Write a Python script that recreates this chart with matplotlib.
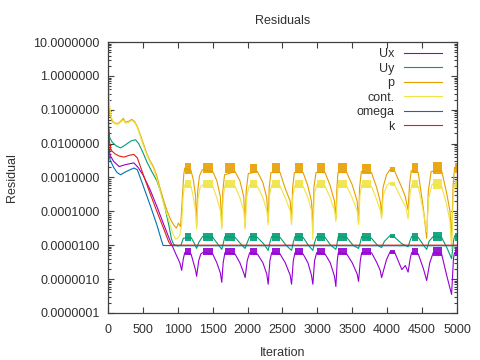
import matplotlib
matplotlib.use("Agg")
import matplotlib.pyplot as plt
from matplotlib.ticker import FixedLocator, FormatStrFormatter, LogLocator, NullFormatter

plt.rcParams['font.family'] = ['Liberation Sans', 'DejaVu Sans']

# residual histories as (iteration, residual)
ux_pts = [(0, 0.04), (10, 0.008), (30, 0.0045), (80, 0.003), (160, 0.0021), (250, 0.0024),
          (370, 0.0027), (430, 0.002), (500, 1.2e-3), (600, 4.5e-4), (700, 1.4e-4), (800, 4e-5),
          (900, 1.2e-5), (980, 5e-6), (1030, 3e-6), (1055, 1.8e-6), (1080, 4e-6), (1100, 6e-6),
          (1190, 5.5e-6), (1225, 3e-6), (1255, 1.8e-6), (1270, 1.2e-6), (1300, 3.5e-6), (1330, 5.5e-6), (1355, 6e-6),
          (1500, 5.5e-6), (1560, 3e-6), (1610, 1.5e-6), (1630, 8e-7), (1650, 3e-6), (1675, 6e-6),
          (1820, 5.5e-6), (1890, 3e-6), (1945, 1.5e-6), (1965, 1.1e-6), (1995, 3.5e-6), (2030, 6e-6),
          (2140, 5.5e-6), (2220, 3e-6), (2275, 1.4e-6), (2295, 7e-7), (2320, 3.5e-6), (2345, 6e-6),
          (2465, 5.5e-6), (2540, 3e-6), (2610, 1.3e-6), (2630, 7e-7), (2655, 3.5e-6), (2680, 6e-6),
          (2795, 5.5e-6), (2865, 3e-6), (2915, 1.3e-6), (2935, 7e-7), (2960, 3.5e-6), (2990, 6e-6),
          (3110, 5.5e-6), (3185, 3e-6), (3245, 1.2e-6), (3265, 6e-7), (3285, 3.5e-6), (3300, 6e-6),
          (3420, 5.5e-6), (3500, 3e-6), (3570, 1.4e-6), (3590, 8.5e-7), (3615, 3.5e-6), (3635, 6e-6),
          (3775, 6e-6), (3850, 3.1e-6), (3900, 1.8e-6), (3920, 1.1e-6), (3990, 3.7e-6), (4040, 6.3e-6),
          (4110, 6e-6), (4210, 1.9e-6), (4260, 2.5e-6), (4300, 1.6e-6), (4330, 4e-6), (4350, 6e-6),
          (4445, 5.5e-6), (4520, 2e-6), (4566, 9e-7), (4610, 3e-6), (4660, 6e-6),
          (4780, 5.5e-6), (4852, 1.3e-6), (4923, 3.5e-7), (4950, 4e-6), (4965, 6e-6), (5000, 6e-6)]

uy_pts = [(0, 0.12), (10, 0.03), (25, 0.015), (60, 0.011), (120, 0.0085), (180, 0.0075), (250, 0.0092),
          (330, 0.012), (395, 0.013), (440, 0.01), (500, 0.0055), (560, 0.0028), (620, 0.0016), (700, 8e-4),
          (760, 3.5e-4), (820, 1.2e-4), (870, 4e-5), (910, 1.5e-5), (940, 1.05e-5), (1000, 9.5e-6),
          (1045, 1e-5), (1080, 1.6e-5),
          (1190, 1.7e-5), (1240, 1.1e-5), (1270, 8e-6), (1300, 1.2e-5), (1355, 1.8e-5),
          (1500, 1.7e-5), (1570, 1.1e-5), (1630, 7.5e-6), (1655, 1.2e-5), (1675, 1.8e-5),
          (1820, 1.7e-5), (1900, 1.1e-5), (1965, 8e-6), (1995, 1.2e-5), (2030, 1.8e-5),
          (2140, 1.7e-5), (2230, 1.1e-5), (2295, 7e-6), (2320, 1.2e-5), (2345, 1.8e-5),
          (2465, 1.7e-5), (2550, 1e-5), (2630, 7e-6), (2655, 1.2e-5), (2680, 1.8e-5),
          (2795, 1.7e-5), (2870, 1e-5), (2935, 7e-6), (2960, 1.2e-5), (2990, 1.8e-5),
          (3110, 1.7e-5), (3190, 1e-5), (3265, 7.5e-6), (3285, 1.2e-5), (3300, 1.8e-5),
          (3420, 1.7e-5), (3510, 1e-5), (3590, 8e-6), (3615, 1.2e-5), (3635, 1.8e-5),
          (3775, 1.6e-5), (3860, 1e-5), (3920, 8.5e-6), (3960, 1.3e-5), (4040, 1.9e-5),
          (4110, 1.7e-5), (4210, 1.1e-5), (4300, 9e-6), (4330, 1.4e-5), (4350, 1.8e-5),
          (4445, 1.7e-5), (4520, 1e-5), (4566, 7.5e-6), (4600, 1.3e-5), (4660, 1.8e-5),
          (4780, 1.7e-5), (4860, 8e-6), (4923, 4e-6), (4950, 1.3e-5), (4965, 1.8e-5), (5000, 1.8e-5)]

p_pts = [(0, 0.6), (10, 0.15), (30, 0.07), (60, 0.045), (100, 0.04), (150, 0.04), (190, 0.048),
         (220, 0.056), (250, 0.043), (300, 0.046), (340, 0.052), (380, 0.045), (420, 0.032),
         (460, 0.019), (500, 0.011), (550, 0.0055), (600, 0.0032), (650, 0.0021), (700, 0.0011),
         (750, 4.5e-4), (800, 2e-4), (850, 1e-4), (900, 5.5e-5), (940, 4e-5), (980, 3.2e-5),
         (1010, 4.5e-5), (1040, 3.5e-5), (1065, 2.5e-4), (1085, 1.2e-3), (1100, 1.9e-3),
         (1190, 1.6e-3), (1225, 8e-4), (1255, 2.8e-4), (1270, 3.5e-5),
         (1285, 4e-4), (1310, 1.1e-3), (1350, 1.7e-3),
         (1500, 1.5e-3), (1560, 8e-4), (1610, 2.7e-4), (1630, 3.5e-5),
         (1645, 4e-4), (1670, 1.2e-3),
         (1820, 1.5e-3), (1890, 8e-4), (1945, 2.7e-4), (1965, 3.5e-5),
         (1980, 4e-4), (2010, 1.3e-3),
         (2140, 1.5e-3), (2220, 7e-4), (2275, 2.5e-4), (2295, 5e-5),
         (2310, 5e-4), (2335, 1.4e-3),
         (2465, 1.4e-3), (2535, 5e-4), (2610, 2e-4), (2630, 5e-5),
         (2645, 5e-4), (2670, 1.4e-3),
         (2795, 1.4e-3), (2860, 6e-4), (2915, 2e-4), (2935, 3.5e-5),
         (2950, 5e-4), (2980, 1.4e-3),
         (3110, 1.4e-3), (3180, 6e-4), (3245, 2e-4), (3265, 6e-5),
         (3280, 5e-4), (3295, 1.4e-3),
         (3420, 1.4e-3), (3500, 6e-4), (3570, 2e-4), (3590, 4.5e-5),
         (3605, 5e-4), (3630, 1.5e-3),
         (3775, 1.4e-3), (3850, 5e-4), (3905, 1.8e-4), (3920, 7e-5),
         (3940, 5e-4), (3990, 1.2e-3), (4040, 1.7e-3),
         (4110, 1.5e-3), (4210, 5e-4), (4260, 2.7e-4), (4300, 1.1e-4),
         (4320, 6e-4), (4345, 1.6e-3),
         (4445, 1.4e-3), (4517, 1.3e-4), (4566, 1.6e-5),
         (4590, 4e-4), (4630, 1.5e-3),
         (4780, 1.6e-3), (4852, 3.5e-4), (4900, 1e-4), (4923, 1.5e-5),
         (4945, 6e-4), (4965, 1.9e-3), (5000, 2e-3)]

cont_pts = [(0, 5.0), (8, 0.8), (20, 0.15), (45, 0.06), (100, 0.038), (150, 0.038), (190, 0.045),
            (220, 0.05), (250, 0.04), (300, 0.043), (340, 0.048), (380, 0.042), (420, 0.03),
            (460, 0.017), (500, 0.0095), (550, 0.005), (600, 0.0029), (650, 0.0019), (700, 9e-4),
            (750, 3.8e-4), (800, 1.6e-4), (850, 7.5e-5), (890, 4e-5), (930, 2.2e-5), (970, 1.5e-5),
            (1000, 1.6e-5), (1030, 2e-5), (1055, 4e-5), (1075, 2.5e-4), (1095, 6e-4),
            (1190, 5.5e-4), (1225, 2.5e-4), (1255, 1e-4), (1270, 3e-5),
            (1290, 2.5e-4), (1320, 5e-4), (1355, 6e-4),
            (1500, 5.5e-4), (1560, 2.5e-4), (1612, 1e-4), (1630, 3e-5),
            (1650, 2.5e-4), (1675, 6e-4),
            (1820, 5.5e-4), (1890, 2.5e-4), (1948, 1e-4), (1965, 3e-5),
            (1985, 2.5e-4), (2015, 5e-4), (2030, 6e-4),
            (2140, 5.5e-4), (2220, 2.5e-4), (2278, 1e-4), (2295, 4e-5),
            (2315, 3e-4), (2345, 6e-4),
            (2465, 5.5e-4), (2540, 2.5e-4), (2612, 1e-4), (2630, 4e-5),
            (2650, 3e-4), (2680, 6e-4),
            (2795, 5.5e-4), (2865, 2.5e-4), (2918, 1e-4), (2935, 1.5e-5),
            (2955, 3e-4), (2990, 6e-4),
            (3110, 5.5e-4), (3185, 2.5e-4), (3248, 1e-4), (3265, 5e-5),
            (3285, 3e-4), (3300, 6e-4),
            (3420, 5.5e-4), (3500, 2.5e-4), (3572, 1e-4), (3590, 4e-5),
            (3610, 3e-4), (3635, 6e-4),
            (3775, 5.5e-4), (3850, 2.2e-4), (3905, 1e-4), (3920, 6e-5),
            (3945, 3e-4), (4000, 6e-4), (4040, 7e-4),
            (4110, 6e-4), (4210, 2.2e-4), (4270, 1.3e-4), (4300, 6e-5),
            (4325, 3e-4), (4350, 6e-4),
            (4445, 5.5e-4), (4517, 1e-4), (4566, 2.5e-5),
            (4595, 2.5e-4), (4640, 6e-4), (4660, 6.5e-4),
            (4780, 5.5e-4), (4855, 1.5e-4), (4900, 5e-5), (4923, 7e-6),
            (4945, 2.5e-4), (4965, 6e-4), (5000, 6.5e-4)]

omega_pts = [(0, 0.012), (10, 0.005), (30, 0.0033), (80, 0.002), (130, 0.0014), (180, 0.0012),
             (260, 0.0015), (370, 0.0019), (420, 0.0017), (500, 6e-4), (600, 1.6e-4), (700, 4e-5),
             (770, 1.3e-5), (790, 9.8e-6), (1000, 9.6e-6), (5000, 9.6e-6)]

k_pts = [(0, 0.08), (8, 0.03), (20, 0.012), (40, 0.0065), (100, 0.005), (160, 0.0043), (230, 0.004),
         (300, 0.0045), (370, 0.0048), (420, 0.0038), (500, 1.3e-3), (600, 3.5e-4), (700, 1e-4),
         (800, 3e-5), (870, 1.25e-5), (900, 1e-5), (5000, 1e-5)]

# noisy plateaus: iteration span and residual spread of each one
band_start = [1100, 1355, 1675, 2030, 2345, 2680, 2990, 3300, 3635, 4040, 4350, 4660, 4965]
band_end = [1190, 1500, 1820, 2140, 2465, 2795, 3110, 3420, 3775, 4110, 4445, 4780, 5000]
ux_lo = [5.0e-6, 5.0e-6, 5.0e-6, 5.0e-6, 5.0e-6, 5.0e-6, 5.0e-6, 5.0e-6, 5.0e-6, 5.5e-6, 5.0e-6, 4.7e-6, 5.0e-6]
ux_hi = [8.3e-6, 8.3e-6, 8.3e-6, 8.3e-6, 8.3e-6, 8.3e-6, 8.3e-6, 8.3e-6, 8.3e-6, 7e-6, 8.3e-6, 8.8e-6, 8.3e-6]
uy_lo = [1.35e-5, 1.35e-5, 1.35e-5, 1.35e-5, 1.35e-5, 1.35e-5, 1.35e-5, 1.35e-5, 1.3e-5, 1.6e-5, 1.35e-5, 1.35e-5, 1.35e-5]
uy_hi = [2.3e-5, 2.3e-5, 2.3e-5, 2.3e-5, 2.3e-5, 2.3e-5, 2.3e-5, 2.3e-5, 2.3e-5, 2.1e-5, 2.3e-5, 2.4e-5, 2.3e-5]
p_lo = [1.3e-3, 1.35e-3, 1.35e-3, 1.35e-3, 1.35e-3, 1.35e-3, 1.35e-3, 1.35e-3, 1.3e-3, 1.5e-3, 1.35e-3, 1.3e-3, 1.35e-3]
p_hi = [2.7e-3, 2.7e-3, 2.6e-3, 2.5e-3, 2.6e-3, 2.7e-3, 2.6e-3, 2.7e-3, 2.5e-3, 2.1e-3, 2.6e-3, 2.9e-3, 2.7e-3]
cont_lo = [4.8e-4, 4.8e-4, 4.8e-4, 4.8e-4, 4.8e-4, 4.8e-4, 4.8e-4, 4.8e-4, 4.8e-4, 5.5e-4, 4.8e-4, 4.6e-4, 4.8e-4]
cont_hi = [8.3e-4, 8.3e-4, 8.3e-4, 8.3e-4, 8.3e-4, 8.3e-4, 8.3e-4, 8.3e-4, 8.3e-4, 7.5e-4, 8.3e-4, 8.8e-4, 8.3e-4]

series = [
    ("Ux", ux_pts, ux_lo, ux_hi, "#9400d3"),
    ("Uy", uy_pts, uy_lo, uy_hi, "#009e73"),
    ("p", p_pts, p_lo, p_hi, "#e69f00"),
    ("cont.", cont_pts, cont_lo, cont_hi, "#f0e442"),
    ("omega", omega_pts, None, None, "#0072b2"),
    ("k", k_pts, None, None, "#e51e10"),
]

fig = plt.figure(figsize=(4.8, 3.6), dpi=100)
ax = fig.add_axes([0.225, 0.131, 0.727, 0.752])

for i, (name, pts, lo, hi, col) in enumerate(series):
    xs = [a for a, b in pts]
    ys = [b for a, b in pts]
    z = 2 + i * 0.1
    ax.plot(xs, ys, color=col, lw=0.8, label=name, zorder=z)
    if lo is not None:
        for s, e, l, h in zip(band_start, band_end, lo, hi):
            ax.fill_between([s, e], [l, l], [h, h], color=col, lw=0, alpha=0.9, zorder=z)

ax.set_yscale('log')
ax.set_xlim(0, 5000)
ax.set_ylim(1e-7, 10)
ax.set_xticks(range(0, 5001, 500))
ax.yaxis.set_major_locator(FixedLocator([10.0 ** e for e in range(-7, 2)]))
ax.yaxis.set_major_formatter(FormatStrFormatter('%.7f'))
ax.yaxis.set_minor_locator(LogLocator(base=10, subs=range(2, 10), numticks=20))
ax.yaxis.set_minor_formatter(NullFormatter())

border = '#404040'
for sp in ax.spines.values():
    sp.set_color(border)
    sp.set_linewidth(0.9)
ax.tick_params(which='both', direction='in', top=True, right=True, colors=border,
               labelcolor='#303030', labelsize=9, width=0.8)
ax.tick_params(which='major', length=4)
ax.tick_params(axis='x', which='major', pad=8)
ax.tick_params(axis='y', which='major', pad=6)
ax.tick_params(which='minor', length=2)

ax.set_title("Residuals", fontsize=9, color='#303030', pad=13)
ax.set_xlabel("Iteration", fontsize=9, color='#303030', labelpad=8)
ax.set_ylabel("Residual", fontsize=9, color='#303030', labelpad=11)

leg = ax.legend(loc='upper right', bbox_to_anchor=(0.957, 0.978), markerfirst=False, frameon=False,
                handlelength=3, handletextpad=0.8, labelspacing=0.2, borderpad=0, borderaxespad=0,
                fontsize=9)
for t in leg.get_texts():
    t.set_color('#303030')

fig.savefig("out.png", dpi=100)
